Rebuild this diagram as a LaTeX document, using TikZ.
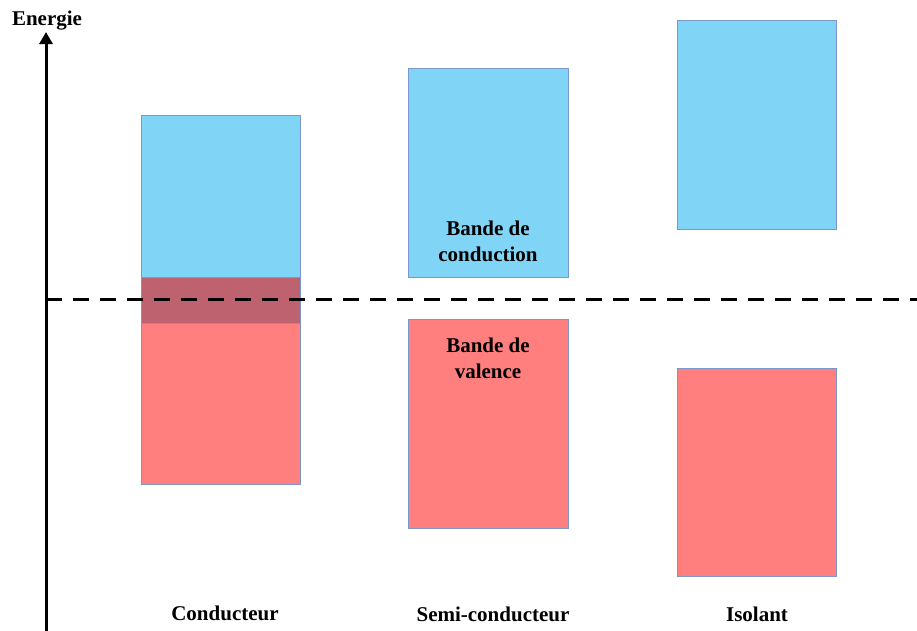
\documentclass[tikz,border=0pt]{standalone}
\usepackage{fontspec}
\setmainfont{Liberation Serif}
\usetikzlibrary{arrows.meta}
\definecolor{bandblue}{RGB}{128,212,245}
\definecolor{bandred}{RGB}{255,127,127}
\definecolor{bandmix}{RGB}{190,98,112}
\definecolor{bandedge}{RGB}{125,150,205}
\tikzset{
  blueband/.style={fill=bandblue},
  redband/.style={fill=bandred},
  bandline/.style={draw=bandedge, line width=1pt},
  lbl/.style={font=\fontsize{21}{26}\selectfont\bfseries, inner sep=0pt, align=center},
}
\begin{document}
\begin{tikzpicture}[x=1pt,y=-1pt]
\useasboundingbox (0,0) rectangle (917,630);
% Conducteur
\fill[blueband] (141,115) rectangle (300,323);
\fill[redband] (141,277) rectangle (300,484);
\draw[bandline] (141,115) rectangle (300,323);
\draw[bandline] (141,277) rectangle (300,484);
\fill[bandmix] (141.5,278) rectangle (299.5,322.5);
\draw[bandline] (141,277) -- (300,277);
% Semi-conducteur
\filldraw[blueband, bandline] (408,68) rectangle (568,277);
\filldraw[redband, bandline] (408,319) rectangle (568,528);
% Isolant
\filldraw[blueband, bandline] (677,20) rectangle (836,229);
\filldraw[redband, bandline] (677,368) rectangle (836,576);
% axis
\coordinate (axbot) at (46,632);
\coordinate (axtop) at (46,32);
\draw[line width=3pt, -{Triangle[length=12pt,width=13pt]}] (axbot) -- (axtop);
\node[lbl] (energie) at (47,21) {Energie};
% Fermi level
\coordinate (fl) at (46,299);
\coordinate (fr) at (917,299);
\draw[line width=3pt, dash pattern=on 16pt off 11pt] (fl) -- (fr);
% texts
\node[lbl] (bc) at (488,241) {Bande de\\conduction};
\node[lbl] (bv) at (488,358) {Bande de\\valence};
\node[lbl] (cond) at (225,613) {Conducteur};
\node[lbl] (semi) at (493,614) {Semi-conducteur};
\node[lbl] (iso) at (757,614) {Isolant};
\end{tikzpicture}
\end{document}
